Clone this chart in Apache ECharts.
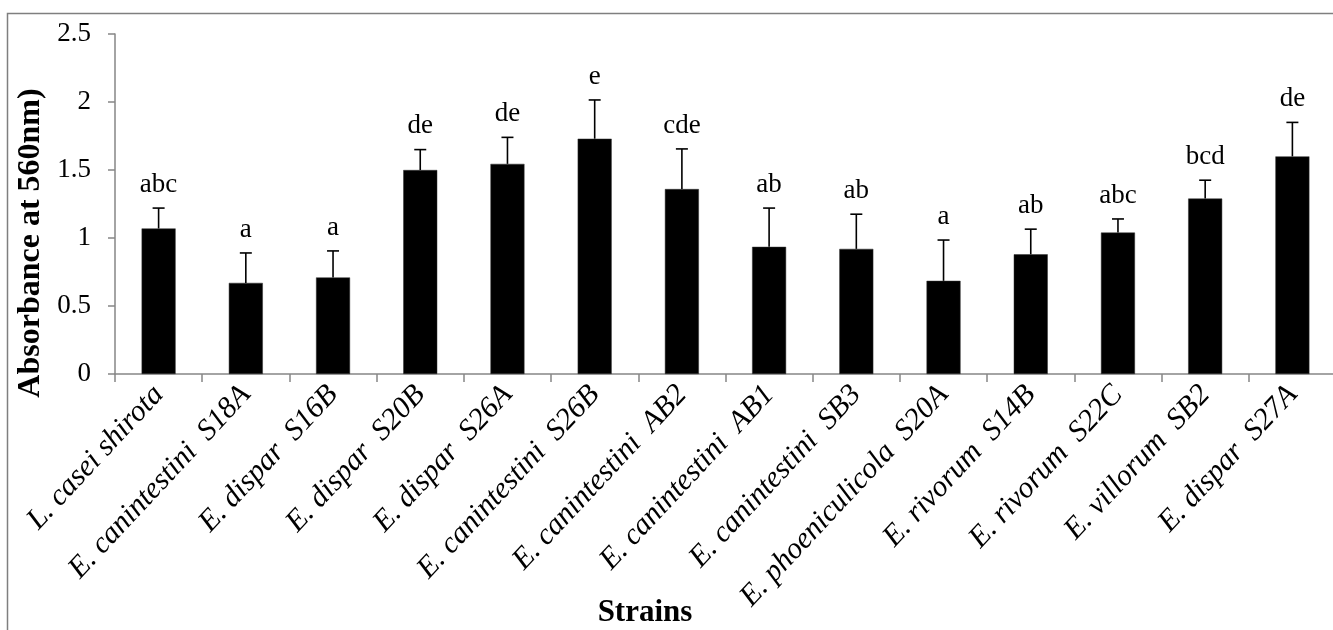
<!DOCTYPE html>
<html>
<head>
<meta charset="utf-8">
<script src="https://cdn.jsdelivr.net/npm/echarts@6/dist/echarts.min.js"></script>
<style>
html,body{margin:0;padding:0;background:#fff;}
#chart{width:1333px;height:630px;}
</style>
</head>
<body>
<div id="chart"></div>
<script>
const categories = ['L. casei shirota', 'E. canintestini  S18A', 'E. dispar  S16B', 'E. dispar  S20B', 'E. dispar  S26A', 'E. canintestini  S26B', 'E. canintestini  AB2', 'E. canintestini  AB1', 'E. canintestini  SB3', 'E. phoeniculicola  S20A', 'E. rivorum  S14B', 'E. rivorum  S22C', 'E. villorum  SB2', 'E. dispar  S27A'];
const means = [1.07, 0.67, 0.71, 1.50, 1.545, 1.73, 1.36, 0.935, 0.92, 0.685, 0.88, 1.04, 1.29, 1.60];
const errors = [0.15, 0.22, 0.195, 0.15, 0.195, 0.285, 0.295, 0.285, 0.255, 0.30, 0.185, 0.10, 0.135, 0.25];
const letters = ['abc', 'a', 'a', 'de', 'de', 'e', 'cde', 'ab', 'ab', 'a', 'ab', 'abc', 'bcd', 'de'];
const yTicks = {min: 0, max: 2.5, interval: 0.5};
const xTitle = 'Strains';
const yTitle = 'Absorbance at 560nm)';

const FONT = '"Liberation Serif", "Times New Roman", serif';
const chart = echarts.init(document.getElementById('chart'), null, {renderer: 'canvas'});

const errData = means.map((m, i) => [i, m, m + errors[i], letters[i]]);

chart.setOption({
  animation: false,
  backgroundColor: '#fff',
  graphic: [{
    type: 'rect',
    shape: {x: 7.5, y: 13.5, width: 1400, height: 700},
    style: {fill: null, stroke: '#7f7f7f', lineWidth: 1.5},
    silent: true
  }, {
    type: 'text',
    x: 31, y: 243,
    rotation: Math.PI / 2,
    style: {text: yTitle, fontFamily: FONT, fontWeight: 'bold', fontSize: 32, fill: '#000', align: 'center', verticalAlign: 'middle'},
    silent: true
  }, {
    type: 'text',
    x: 645, y: 613,
    style: {text: xTitle, fontFamily: FONT, fontWeight: 'bold', fontSize: 31, fill: '#000', align: 'center', verticalAlign: 'middle'},
    silent: true
  }],
  grid: {left: 115, right: -3, top: 34, bottom: 256, outerBoundsMode: 'none', containLabel: false},
  xAxis: {
    type: 'category',
    data: categories,
    boundaryGap: true,
    axisLine: {lineStyle: {color: '#868686', width: 1.5}},
    axisTick: {show: true, alignWithLabel: false, length: 8, lineStyle: {color: '#868686', width: 1.5}},
    axisLabel: {interval: 0, rotate: 47, margin: 16, fontFamily: FONT, fontStyle: 'italic', fontSize: 30, color: '#000'}
  },
  yAxis: {
    type: 'value',
    min: yTicks.min, max: yTicks.max, interval: yTicks.interval,
    splitLine: {show: false},
    axisLine: {show: true, lineStyle: {color: '#868686', width: 1.5}},
    axisTick: {show: true, inside: false, length: 7, lineStyle: {color: '#868686', width: 1.5}},
    axisLabel: {margin: 24, fontFamily: FONT, fontSize: 27, color: '#000'}
  },
  series: [{
    type: 'bar',
    data: means,
    barWidth: 34,
    itemStyle: {color: '#000', borderColor: '#333', borderWidth: 0.5},
    silent: true
  }, {
    type: 'custom',
    data: errData,
    silent: true,
    z: 5,
    renderItem: function (params, api) {
      const x = api.coord([api.value(0), api.value(1)]);
      const top = api.coord([api.value(0), api.value(2)]);
      const half = 6;
      return {
        type: 'group',
        children: [{
          type: 'line',
          shape: {x1: x[0], y1: x[1], x2: top[0], y2: top[1]},
          style: {stroke: '#000', lineWidth: 1.6}
        }, {
          type: 'line',
          shape: {x1: top[0] - half, y1: top[1], x2: top[0] + half, y2: top[1]},
          style: {stroke: '#000', lineWidth: 1.6}
        }, {
          type: 'text',
          x: top[0],
          y: top[1] - 10,
          style: {
            text: api.value(3),
            fontFamily: FONT,
            fontSize: 27,
            fill: '#000',
            align: 'center',
            verticalAlign: 'bottom'
          }
        }]
      };
    }
  }]
});
</script>
</body>
</html>
